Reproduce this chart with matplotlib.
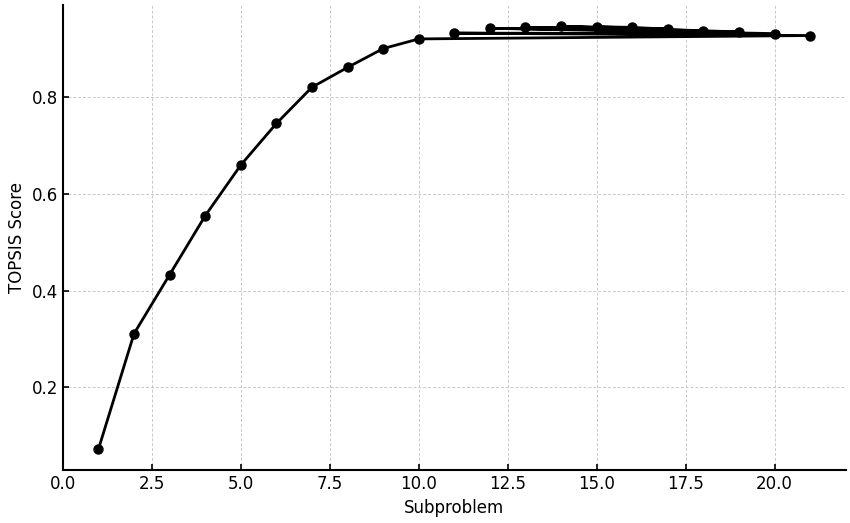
import matplotlib
matplotlib.use("Agg")
import matplotlib.pyplot as plt

# порядок точок як у вихідних даних (хвіст іде зигзагом)
subproblem = [1, 2, 3, 4, 5, 6, 7, 8, 9, 10,
              21, 11, 20, 12, 19, 13, 18, 14, 17, 15, 16]
score = [0.072, 0.311, 0.433, 0.555, 0.660, 0.746, 0.821, 0.862, 0.901, 0.921,
         0.928, 0.933, 0.932, 0.943, 0.936, 0.945, 0.938, 0.947, 0.942, 0.946, 0.945]

fig = plt.figure(figsize=(8.5, 5.23), dpi=100)
ax = fig.add_axes([0.074, 0.101, 0.921, 0.889])

ax.plot(subproblem, score, color='black', linewidth=2, marker='o', markersize=6.5)

ax.set_xlabel('Subproblem', fontsize=12)
ax.set_ylabel('TOPSIS Score', fontsize=12)
ax.tick_params(labelsize=12, width=1.2, direction='in', length=4)
ax.grid(True, linestyle=(0, (3, 2)), color='#c8c8c8', linewidth=0.7)
ax.spines['top'].set_visible(False)
ax.spines['right'].set_visible(False)
ax.spines['left'].set_linewidth(1.5)
ax.spines['bottom'].set_linewidth(1.5)

fig.savefig('out.png', dpi=100)
